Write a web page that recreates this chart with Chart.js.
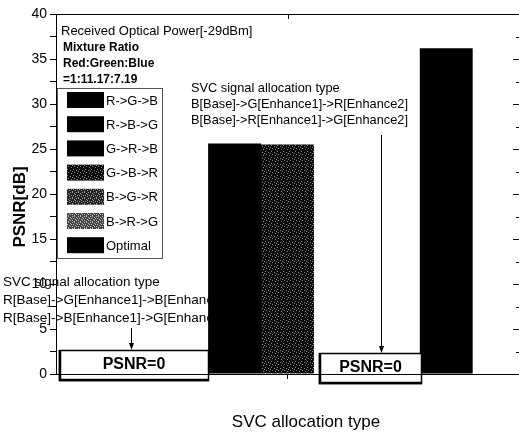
<!DOCTYPE html>
<html>
<head>
<meta charset="utf-8">
<script src="https://cdn.jsdelivr.net/npm/chart.js@4.4.1/dist/chart.umd.min.js"></script>
<style>
  html, body { margin: 0; padding: 0; background: #fff; }
  #wrap { width: 519px; height: 434px; }
</style>
</head>
<body>
<div id="wrap"><canvas id="psnrChart" width="519" height="434"></canvas></div>
<script>
// Chart data
const categories = [''];
const seriesNames = ['R->G->B', 'R->B->G', 'G->R->B', 'G->B->R', 'B->G->R', 'B->R->G', 'Optimal'];
const psnrValues = [0, 0, 25.6, 25.5, 0, 0, 36.2];
const yMin = 0;
const yMax = 40;
const yStep = 2.5;

// Text blocks
const powerNote = 'Received Optical Power[-29dBm]';
const ratioNote = ['Mixture Ratio', 'Red:Green:Blue', '=1:11.17:7.19'];
const noteRight = ['SVC signal allocation type', 'B[Base]->G[Enhance1]->R[Enhance2]', 'B[Base]->R[Enhance1]->G[Enhance2]'];
const noteLeft = ['SVC signal allocation type', 'R[Base]->G[Enhance1]->B[Enhance2]', 'R[Base]->B[Enhance1]->G[Enhance2]'];
const zeroLabel = 'PSNR=0';
const xTitle = 'SVC allocation type';
const yTitle = 'PSNR[dB]';

// speckle fills for the dotted bars
function speckle(bg, fg, dots) {
    const c = document.createElement('canvas');
    c.width = 6; c.height = 6;
    const g = c.getContext('2d');
    g.fillStyle = bg;
    g.fillRect(0, 0, 6, 6);
    g.fillStyle = fg;
    dots.forEach(([x, y]) => g.fillRect(x, y, 1, 1));
    return g.createPattern(c, 'repeat');
}
const ctx0 = document.getElementById('psnrChart').getContext('2d');
const fills = [
    '#000',
    '#000',
    '#000',
    speckle('#0a0a0a', '#888', [[1, 1], [4, 2], [2, 4], [5, 5], [0, 3]]),
    speckle('#222', '#999', [[0, 0], [2, 1], [4, 0], [1, 3], [3, 2], [5, 3], [0, 5], [3, 4]]),
    speckle('#444', '#bbb', [[0, 0], [2, 0], [4, 1], [1, 2], [3, 3], [5, 2], [0, 4], [2, 5], [4, 4]]),
    '#000'
];

const FONT = 'Arial, "Liberation Sans", sans-serif';

function textAt(ctx, str, x, y, size, bold, align) {
    ctx.font = (bold ? 'bold ' : '') + size + 'px ' + FONT;
    ctx.textAlign = align || 'left';
    ctx.textBaseline = 'middle';
    ctx.fillStyle = '#000';
    ctx.fillText(str, x, y);
}

function arrowDown(ctx, x, y1, y2) {
    ctx.strokeStyle = '#000';
    ctx.lineWidth = 1;
    ctx.beginPath();
    ctx.moveTo(x + 0.5, y1);
    ctx.lineTo(x + 0.5, y2 - 5);
    ctx.stroke();
    ctx.beginPath();
    ctx.moveTo(x - 2, y2 - 7);
    ctx.lineTo(x + 3, y2 - 7);
    ctx.lineTo(x + 0.5, y2);
    ctx.closePath();
    ctx.fill();
}

function zeroBox(ctx, x1, x2, y1, y2) {
    ctx.fillStyle = '#fff';
    ctx.fillRect(x1, y1, x2 - x1, y2 - y1);
    ctx.strokeStyle = '#000';
    ctx.lineWidth = 1.5;
    ctx.strokeRect(x1 + 0.5, y1 + 0.5, x2 - x1 - 1, y2 - y1 - 1);
    ctx.lineWidth = 2.5;
    ctx.beginPath();
    ctx.moveTo(x1 + 1, y1);
    ctx.lineTo(x1 + 1, y2 - 1);
    ctx.lineTo(x2, y2 - 1);
    ctx.stroke();
    textAt(ctx, zeroLabel, (x1 + x2) / 2, (y1 + y2) / 2 - 1, 16, true, 'center');
}

const notesPlugin = {
    id: 'notes',
    beforeDatasetsDraw(chart) {
        const ctx = chart.ctx;
        ctx.save();
        textAt(ctx, powerNote, 61, 31, 13, false);
        ratioNote.forEach((s, i) => textAt(ctx, s, 63, 48 + i * 16, 12, true));

        // legend box
        ctx.strokeStyle = '#555';
        ctx.lineWidth = 1;
        ctx.strokeRect(57.5, 88.5, 105, 170);
        seriesNames.forEach((name, i) => {
            const cy = 100 + i * 24.2;
            ctx.fillStyle = fills[i];
            ctx.fillRect(67, cy - 8, 37, 16);
            textAt(ctx, name, 106, cy + 1, 13, false);
        });

        noteRight.forEach((s, i) => textAt(ctx, s, 191, 88 + i * 16, 12.8, false));
        noteLeft.forEach((s, i) => textAt(ctx, s, 3, 282 + i * 18, 13.5, false));
        ctx.restore();
    },
    afterDatasetsDraw(chart) {
        const ctx = chart.ctx;
        const area = chart.chartArea;
        const y = chart.scales.y;
        const y0 = y.getPixelForValue(0);
        ctx.save();

        arrowDown(ctx, 131, 328, 350);
        zeroBox(ctx, 59, 209, 350, 381);
        arrowDown(ctx, 381, 135, 353);
        zeroBox(ctx, 319, 422, 353, 384);

        // axis line over the boxes
        ctx.strokeStyle = '#000';
        ctx.lineWidth = 1;
        ctx.beginPath();
        ctx.moveTo(area.left, Math.round(y0) + 0.5);
        ctx.lineTo(area.right, Math.round(y0) + 0.5);
        ctx.stroke();

        // top frame line with centre tick
        ctx.beginPath();
        ctx.moveTo(area.left, area.top + 0.5);
        ctx.lineTo(area.right, area.top + 0.5);
        const xc = chart.scales.x.getPixelForValue(0);
        ctx.moveTo(Math.round(xc) + 0.5, area.top);
        ctx.lineTo(Math.round(xc) + 0.5, area.top + 5);
        ctx.stroke();

        // inward ticks on the right side
        y.ticks.forEach(t => {
            const py = Math.round(y.getPixelForValue(t.value)) + 0.5;
            const major = t.value % 5 === 0;
            ctx.beginPath();
            ctx.moveTo(area.right, py);
            ctx.lineTo(area.right - (major ? 6 : 3), py);
            ctx.stroke();
        });

        // axis titles
        textAt(ctx, xTitle, 306, 422, 17, false, 'center');
        ctx.translate(20, 207);
        ctx.rotate(-Math.PI / 2);
        textAt(ctx, yTitle, 0, 0, 17, true, 'center');
        ctx.restore();
    }
};

const datasets = seriesNames.map((name, i) => ({
    label: name,
    data: [psnrValues[i]],
    backgroundColor: fills[i],
    borderWidth: 0,
    categoryPercentage: 0.8,
    barPercentage: 1.0
}));

new Chart(ctx0, {
    type: 'bar',
    data: { labels: categories, datasets },
    options: {
        responsive: false,
        animation: false,
        layout: { padding: { top: 14, right: -4, left: 0, bottom: 0 } },
        plugins: {
            legend: { display: false },
            tooltip: { enabled: false }
        },
        scales: {
            x: {
                afterFit(scale) { scale.height = 60; },
                ticks: { display: false },
                grid: {
                    offset: false,
                    drawOnChartArea: false,
                    tickLength: 5,
                    color: '#000'
                },
                border: { color: '#000', width: 1 }
            },
            y: {
                min: yMin,
                max: yMax,
                afterFit(scale) { scale.width = 56; },
                ticks: {
                    stepSize: yStep,
                    color: '#000',
                    padding: 3,
                    font: { family: FONT, size: 14 },
                    callback: v => (v % 5 === 0 ? v : '')
                },
                grid: {
                    drawOnChartArea: false,
                    tickLength: 6,
                    color: '#000'
                },
                border: { color: '#000', width: 1 }
            }
        }
    },
    plugins: [notesPlugin]
});
</script>
</body>
</html>
